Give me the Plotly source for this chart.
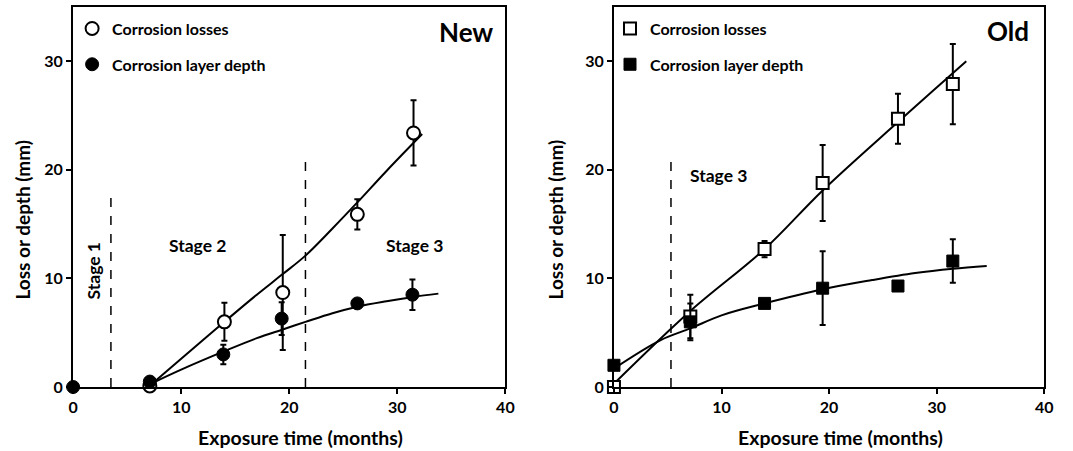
import plotly.graph_objects as go

# ---------------- data: "New" panel ----------------
new_t = [7.1, 14.0, 19.4, 26.3, 31.5]
new_loss = [0.1, 6.0, 8.7, 15.9, 23.4]
new_loss_err = [0.0, 1.75, 5.3, 1.4, 3.0]
new_depth_t = [0.0, 7.1, 13.9, 19.3, 26.3, 31.4]
new_depth = [0.0, 0.5, 3.0, 6.3, 7.7, 8.5]
new_depth_err = [0.0, 0.0, 0.9, 1.5, 0.0, 1.4]
new_loss_fit_t = [7.2, 10, 14, 17, 19.4, 21.5, 24, 26.3, 29, 32.3]
new_loss_fit = [0.2, 2.6, 6.0, 8.5, 10.4, 12.1, 14.6, 17.0, 19.9, 23.3]
new_depth_fit_t = [7.2, 10, 14, 17, 19.4, 21.5, 24, 26.3, 29, 31.5, 33.8]
new_depth_fit = [0.3, 1.6, 3.3, 4.5, 5.3, 6.0, 6.8, 7.4, 7.9, 8.3, 8.6]
new_stage_bounds = [3.5, 21.5]
new_stage_tops = [17.4, 21.0]

# ---------------- data: "Old" panel ----------------
old_t = [0.0, 7.1, 14.0, 19.4, 26.4, 31.5]
old_loss = [0.0, 6.5, 12.7, 18.8, 24.7, 27.9]
old_loss_err = [0.0, 2.0, 0.75, 3.5, 2.3, 3.7]
old_depth = [2.0, 6.0, 7.7, 9.1, 9.3, 11.6]
old_depth_err = [0.0, 1.7, 0.0, 3.4, 0.4, 2.0]
old_loss_fit_t = [0, 7.1, 14, 19.4, 26.4, 32.75]
old_loss_fit = [0.3, 7.0, 12.7, 18.1, 24.4, 30.0]
old_depth_fit_t = [0, 4.3, 7.1, 10, 14, 19.4, 24, 28, 31.5, 34.65]
old_depth_fit = [1.7, 4.3, 5.4, 6.6, 7.7, 9.0, 9.85, 10.5, 10.9, 11.15]
old_stage_bounds = [5.3]
old_stage_tops = [21.0]

FONT = "Lato"
BLACK = "black"

fig = go.Figure()

def err(vals):
    return dict(type="data", array=vals, visible=True, color=BLACK, thickness=2, width=3)

# New panel
fig.add_trace(go.Scatter(x=new_loss_fit_t, y=new_loss_fit, mode="lines", line=dict(color=BLACK, width=2, shape="spline"),
                         showlegend=False, xaxis="x", yaxis="y", hoverinfo="skip"))
fig.add_trace(go.Scatter(x=new_depth_fit_t, y=new_depth_fit, mode="lines", line=dict(color=BLACK, width=2, shape="spline"),
                         showlegend=False, xaxis="x", yaxis="y", hoverinfo="skip"))
fig.add_trace(go.Scatter(x=new_t, y=new_loss, mode="markers", name="Corrosion losses", error_y=err(new_loss_err),
                         marker=dict(symbol="circle", size=13, color="white", line=dict(color=BLACK, width=2)),
                         xaxis="x", yaxis="y", legend="legend", legendgroup="a", cliponaxis=False))
fig.add_trace(go.Scatter(x=new_depth_t, y=new_depth, mode="markers", name="Corrosion layer depth", error_y=err(new_depth_err),
                         marker=dict(symbol="circle", size=13, color=BLACK, line=dict(color=BLACK, width=1)),
                         xaxis="x", yaxis="y", legend="legend", legendgroup="b", cliponaxis=False))

# Old panel
fig.add_trace(go.Scatter(x=old_loss_fit_t, y=old_loss_fit, mode="lines", line=dict(color=BLACK, width=2, shape="spline"),
                         showlegend=False, xaxis="x2", yaxis="y2", hoverinfo="skip"))
fig.add_trace(go.Scatter(x=old_depth_fit_t, y=old_depth_fit, mode="lines", line=dict(color=BLACK, width=2, shape="spline"),
                         showlegend=False, xaxis="x2", yaxis="y2", hoverinfo="skip"))
fig.add_trace(go.Scatter(x=old_t, y=old_loss, mode="markers", name="Corrosion losses", error_y=err(old_loss_err),
                         marker=dict(symbol="square", size=12, color="white", line=dict(color=BLACK, width=2)),
                         xaxis="x2", yaxis="y2", legend="legend2", legendgroup="c", cliponaxis=False))
fig.add_trace(go.Scatter(x=old_t, y=old_depth, mode="markers", name="Corrosion layer depth", error_y=err(old_depth_err),
                         marker=dict(symbol="square", size=12, color=BLACK, line=dict(color=BLACK, width=1)),
                         xaxis="x2", yaxis="y2", legend="legend2", legendgroup="d", cliponaxis=False))

shapes = []
for xb, top in zip(new_stage_bounds, new_stage_tops):
    shapes.append(dict(type="line", xref="x", yref="y", x0=xb, x1=xb, y0=0, y1=top,
                       line=dict(color=BLACK, width=1.5, dash="dash"), layer="below"))
for xb, top in zip(old_stage_bounds, old_stage_tops):
    shapes.append(dict(type="line", xref="x2", yref="y2", x0=xb, x1=xb, y0=0, y1=top,
                       line=dict(color=BLACK, width=1.5, dash="dash"), layer="below"))

def txt(text, x, y, xref, yref, size, angle=0, xanchor="center", yanchor="middle"):
    return dict(text=text, x=x, y=y, xref=xref, yref=yref, showarrow=False, textangle=angle,
                font=dict(family=FONT, size=size, color=BLACK, weight="bold"), xanchor=xanchor, yanchor=yanchor)

annotations = [
    txt("Stage 1", 1.9, 10.7, "x", "y", 17.5, angle=-90),
    txt("Stage 2", 11.5, 13.0, "x", "y", 17.5),
    txt("Stage 3", 31.6, 13.0, "x", "y", 17.5),
    txt("New", 36.4, 32.7, "x", "y", 26),
    txt("Stage 3", 9.7, 19.5, "x2", "y2", 17.5),
    txt("Old", 36.6, 32.8, "x2", "y2", 26),
    txt("Loss or depth (mm)", 0.0168, 0.44, "paper", "paper", 19, angle=-90),
    txt("Loss or depth (mm)", 0.520, 0.44, "paper", "paper", 19, angle=-90),
    txt("Exposure time (months)", 0.2787, -0.1316, "paper", "paper", 19.5),
    txt("Exposure time (months)", 0.789, -0.1316, "paper", "paper", 19.5),
]

xcommon = dict(range=[0, 40], dtick=10, tick0=0, showgrid=False, zeroline=False, showline=True, linecolor=BLACK,
               linewidth=2, mirror=True, ticks="outside", ticklen=5, tickwidth=2, tickcolor=BLACK,
               tickfont=dict(family=FONT, size=16, color=BLACK, weight="bold"), fixedrange=True)
ycommon = dict(range=[0, 35], tickvals=[0, 10, 20, 30], showgrid=False, zeroline=False, showline=True, linecolor=BLACK,
               linewidth=2, mirror=True, ticks="outside", ticklen=5, tickwidth=2, tickcolor=BLACK,
               tickfont=dict(family=FONT, size=16, color=BLACK, weight="bold"), fixedrange=True)

legcommon = dict(font=dict(family=FONT, size=16, color=BLACK, weight="bold"), bgcolor="rgba(0,0,0,0)",
                 borderwidth=0, itemwidth=30, tracegroupgap=12, xanchor="left", yanchor="top")

fig.update_layout(
    width=1073, height=451,
    margin=dict(l=0, r=0, t=7, b=64),
    paper_bgcolor="white", plot_bgcolor="white",
    xaxis=dict(domain=[69 / 1073, 507 / 1073], anchor="y", **xcommon),
    yaxis=dict(domain=[0, 1], anchor="x", **ycommon),
    xaxis2=dict(domain=[617 / 1073, 1053 / 1073], anchor="y2", **xcommon),
    yaxis2=dict(domain=[0, 1], anchor="x2", **ycommon),
    legend=dict(x=68 / 1073, y=0.988, **legcommon),
    legend2=dict(x=613 / 1073, y=0.988, **legcommon),
    shapes=shapes,
    annotations=annotations,
    showlegend=True,
)

fig.write_html("out.html", config={"displayModeBar": False},
               post_script="document.body.style.margin='0';document.body.style.overflow='hidden';")
